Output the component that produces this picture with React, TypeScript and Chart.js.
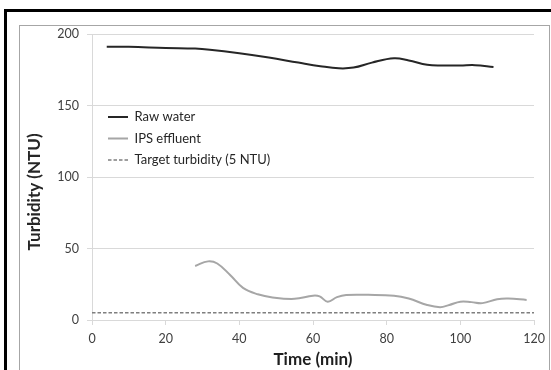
import React, { useEffect, useRef } from "react";
import { Chart, registerables } from "chart.js";

Chart.register(...registerables);

// ---- data ----
const rawTime = [4, 10, 20, 28, 32, 40, 48, 56, 62, 67, 71, 76, 82, 86, 91, 95, 100, 104, 109];
const rawTurbidity = [191, 191, 190.2, 189.8, 189, 186.5, 183.5, 180, 177.5, 176, 176.5, 180, 183, 181.5, 178.5, 178, 178, 178.2, 177];

const ipsTime = [28, 31.5, 34, 37.5, 41, 45, 49, 55, 60, 61.8, 64, 66.5, 69, 75, 82, 86, 91, 94.5, 97, 100, 103, 106, 110, 113, 118];
const ipsTurbidity = [37.8, 41, 39.5, 31.5, 22.5, 18, 15.8, 14.8, 17, 16.5, 12.8, 16, 17.5, 17.6, 17, 15, 10.5, 9, 10.5, 12.8, 12.5, 11.8, 14.5, 15, 14];

const targetTime = [0, 120];
const targetTurbidity = [5, 5];

const seriesNames = ["Raw water", "IPS effluent", "Target turbidity (5 NTU)"];
const xTickValues = [0, 20, 40, 60, 80, 100, 120];
const yTickValues = [0, 50, 100, 150, 200];
const xTitle = "Time (min)";
const yTitle = "Turbidity (NTU)";

const toPoints = (xs: number[], ys: number[]) => xs.map((x, i) => ({ x, y: ys[i] }));

const FONT = "Lato";

const framePlugin = {
  id: "frameAndTitle",
  beforeDraw(chart: any) {
    const ctx = chart.ctx as CanvasRenderingContext2D;
    ctx.save();
    ctx.fillStyle = "#ffffff";
    ctx.fillRect(0, 0, chart.width, chart.height);
    ctx.strokeStyle = "#a6a6a6";
    ctx.lineWidth = 1;
    ctx.strokeRect(19.5, 25.5, 530, 360);
    ctx.fillStyle = "#000000";
    ctx.fillRect(4, 9, 3, chart.height - 9);
    ctx.fillRect(4, 9, chart.width - 4, 3);
    ctx.restore();
  },
  afterLayout(chart: any) {
    const lg = chart.legend;
    if (!lg) return;
    const pad = 8.5;
    lg.left = 108 - pad;
    lg.top = 117 - 6.5 - pad;
    lg.width = 260;
    lg.height = 90;
    lg.right = lg.left + lg.width;
    lg.bottom = lg.top + lg.height;
  },
  afterDraw(chart: any) {
    const ctx = chart.ctx as CanvasRenderingContext2D;
    ctx.save();
    ctx.translate(35, 192);
    ctx.rotate(-Math.PI / 2);
    ctx.font = `bold 17px ${FONT}`;
    ctx.fillStyle = "#262626";
    ctx.textAlign = "center";
    ctx.textBaseline = "middle";
    ctx.fillText(yTitle, 0, 0);
    ctx.restore();
  },
};

export default function App() {
  const ref = useRef<HTMLCanvasElement | null>(null);

  useEffect(() => {
    if (!ref.current) return;
    const chart = new Chart(ref.current, {
      type: "line",
      data: {
        datasets: [
          {
            label: seriesNames[0],
            data: toPoints(rawTime, rawTurbidity),
            borderColor: "#262626",
            borderWidth: 2,
            pointRadius: 0,
            tension: 0.4,
            fill: false,
          },
          {
            label: seriesNames[1],
            data: toPoints(ipsTime, ipsTurbidity),
            borderColor: "#a6a6a6",
            borderWidth: 2,
            pointRadius: 0,
            tension: 0.4,
            fill: false,
          },
          {
            label: seriesNames[2],
            data: toPoints(targetTime, targetTurbidity),
            borderColor: "#7f7f7f",
            borderWidth: 1.5,
            borderDash: [3.5, 2],
            pointRadius: 0,
            tension: 0,
            fill: false,
          },
        ],
      },
      options: {
        animation: false,
        responsive: false,
        devicePixelRatio: 1,
        layout: { padding: { left: 0, top: 34, right: 17, bottom: 0 } },
        plugins: {
          tooltip: { enabled: false },
          legend: {
            display: true,
            position: "chartArea",
            align: "start",
            labels: {
              usePointStyle: true,
              pointStyle: "line",
              pointStyleWidth: 20,
              padding: 8.5,
              color: "#262626",
              font: { family: FONT, size: 13 },
              generateLabels: (ch: any) => {
                const items = Chart.defaults.plugins.legend.labels.generateLabels(ch);
                return items.map((it: any) => {
                  const ds: any = ch.data.datasets[it.datasetIndex];
                  return {
                    ...it,
                    strokeStyle: ds.borderColor,
                    fillStyle: ds.borderColor,
                    lineWidth: ds.borderWidth,
                    lineDash: ds.borderDash || [],
                    pointStyle: "line",
                  };
                });
              },
            },
          },
        },
        scales: {
          x: {
            type: "linear",
            min: 0,
            max: 120,
            afterBuildTicks: (scale: any) => {
              scale.ticks = xTickValues.map((v) => ({ value: v }));
            },
            afterFit: (scale: any) => {
              scale.height = 50;
            },
            grid: {
              drawOnChartArea: false,
              drawTicks: true,
              tickLength: 5,
              color: "#d9d9d9",
            },
            border: { display: true, color: "#d9d9d9" },
            ticks: {
              padding: 6,
              color: "#404040",
              font: { family: FONT, size: 12.5 },
              maxRotation: 0,
            },
            title: {
              display: true,
              text: xTitle,
              color: "#1f1f1f",
              font: { family: FONT, size: 17, weight: "bold" },
              padding: { top: 0, bottom: 0 },
            },
          },
          y: {
            type: "linear",
            min: 0,
            max: 200,
            afterBuildTicks: (scale: any) => {
              scale.ticks = yTickValues.map((v) => ({ value: v }));
            },
            afterFit: (scale: any) => {
              scale.width = 92;
            },
            grid: {
              drawOnChartArea: true,
              drawTicks: true,
              tickLength: 5,
              color: "#d9d9d9",
            },
            border: { display: true, color: "#d9d9d9" },
            ticks: {
              padding: 8,
              color: "#404040",
              font: { family: FONT, size: 12.5 },
            },
            title: { display: false },
          },
        },
      },
      plugins: [framePlugin],
    } as any);
    return () => chart.destroy();
  }, []);

  return (
    <div style={{ position: "absolute", left: 0, top: 0, width: 551, height: 370 }}>
      <canvas ref={ref} width={551} height={370} style={{ display: "block" }} />
    </div>
  );
}
